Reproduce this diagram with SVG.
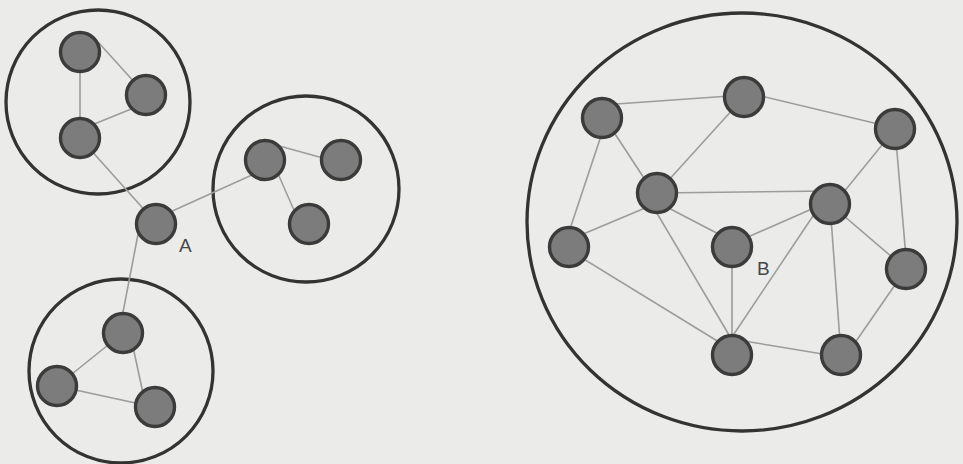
<svg xmlns="http://www.w3.org/2000/svg" width="963" height="464" viewBox="0 0 963 464">
<style>
.bg{fill:#ebebe9}
.grp{fill:none;stroke:#333;stroke-width:3.3}
.e{stroke:#9c9c9c;stroke-width:1.6;fill:none}
.n{fill:#7c7c7c;stroke:#3b3b3b;stroke-width:3.4}
.lbl{font-family:"Liberation Sans",Arial,sans-serif;font-size:19px;fill:#474747}
</style>
<rect class="bg" x="0" y="0" width="963" height="464"/>
<g id="groups">
<circle id="group1" class="grp" cx="98" cy="102" r="92"/>
<circle id="group2" class="grp" cx="306" cy="189" r="93"/>
<circle id="group3" class="grp" cx="121" cy="371" r="92"/>
<ellipse id="groupB" class="grp" cx="742" cy="222" rx="215" ry="209"/>
</g>
<g id="connectors">
<line class="e" x1="98" y1="42" x2="146" y2="95"/>
<line class="e" x1="80" y1="52" x2="80" y2="138"/>
<line class="e" x1="82" y1="129" x2="146" y2="103"/>
<line class="e" x1="80" y1="138" x2="157" y2="224"/>
<line class="e" x1="157" y1="218" x2="265" y2="169"/>
<line class="e" x1="140" y1="224" x2="119" y2="333"/>
<line class="e" x1="265" y1="142" x2="341" y2="163"/>
<line class="e" x1="272" y1="160" x2="300" y2="224"/>
<line class="e" x1="123" y1="333" x2="57" y2="386"/>
<line class="e" x1="130" y1="333" x2="146" y2="407"/>
<line class="e" x1="57" y1="386" x2="154" y2="407"/>
<line class="e" x1="602" y1="105" x2="744" y2="95"/>
<line class="e" x1="744" y1="92" x2="895" y2="128"/>
<line class="e" x1="744" y1="97" x2="657" y2="193"/>
<line class="e" x1="602" y1="114" x2="657" y2="198"/>
<line class="e" x1="607" y1="118" x2="564" y2="247"/>
<line class="e" x1="657" y1="193" x2="830" y2="191"/>
<line class="e" x1="830" y1="209" x2="895" y2="129"/>
<line class="e" x1="895" y1="129" x2="907" y2="269"/>
<line class="e" x1="569" y1="240" x2="657" y2="203"/>
<line class="e" x1="569" y1="250" x2="732" y2="350"/>
<line class="e" x1="645" y1="193" x2="732" y2="340"/>
<line class="e" x1="657" y1="202" x2="732" y2="241"/>
<line class="e" x1="732" y1="247" x2="732" y2="355"/>
<line class="e" x1="830" y1="201" x2="732" y2="244"/>
<line class="e" x1="821" y1="204" x2="732" y2="337"/>
<line class="e" x1="830" y1="204" x2="841" y2="355"/>
<line class="e" x1="830" y1="204" x2="906" y2="269"/>
<line class="e" x1="906" y1="269" x2="850" y2="350"/>
<line class="e" x1="732" y1="339" x2="841" y2="357"/>
</g>
<g id="node-g1a"><circle class="n" cx="80" cy="52" r="19.5"/></g>
<g id="node-g1b"><circle class="n" cx="146" cy="95" r="19.5"/></g>
<g id="node-g1c"><circle class="n" cx="80" cy="138" r="19.5"/></g>
<g id="node-g2a"><circle class="n" cx="265" cy="160" r="19.5"/></g>
<g id="node-g2b"><circle class="n" cx="341" cy="160" r="19.5"/></g>
<g id="node-g2c"><circle class="n" cx="309" cy="224" r="19.5"/></g>
<g id="node-A"><circle class="n" cx="156" cy="224" r="19.5"/><text class="lbl" x="179" y="252">A</text></g>
<g id="node-g3a"><circle class="n" cx="123" cy="333" r="19.5"/></g>
<g id="node-g3b"><circle class="n" cx="57" cy="386" r="19.5"/></g>
<g id="node-g3c"><circle class="n" cx="155" cy="407" r="19.5"/></g>
<g id="node-b1"><circle class="n" cx="602" cy="118" r="19.5"/></g>
<g id="node-b2"><circle class="n" cx="744" cy="97" r="19.5"/></g>
<g id="node-b3"><circle class="n" cx="895" cy="129" r="19.5"/></g>
<g id="node-b4"><circle class="n" cx="657" cy="193" r="19.5"/></g>
<g id="node-b5"><circle class="n" cx="830" cy="204" r="19.5"/></g>
<g id="node-b6"><circle class="n" cx="569" cy="247" r="19.5"/></g>
<g id="node-B"><circle class="n" cx="732" cy="247" r="19.5"/><text class="lbl" x="757" y="275">B</text></g>
<g id="node-b8"><circle class="n" cx="906" cy="269" r="19.5"/></g>
<g id="node-b9"><circle class="n" cx="732" cy="355" r="19.5"/></g>
<g id="node-b10"><circle class="n" cx="841" cy="355" r="19.5"/></g>
</svg>
